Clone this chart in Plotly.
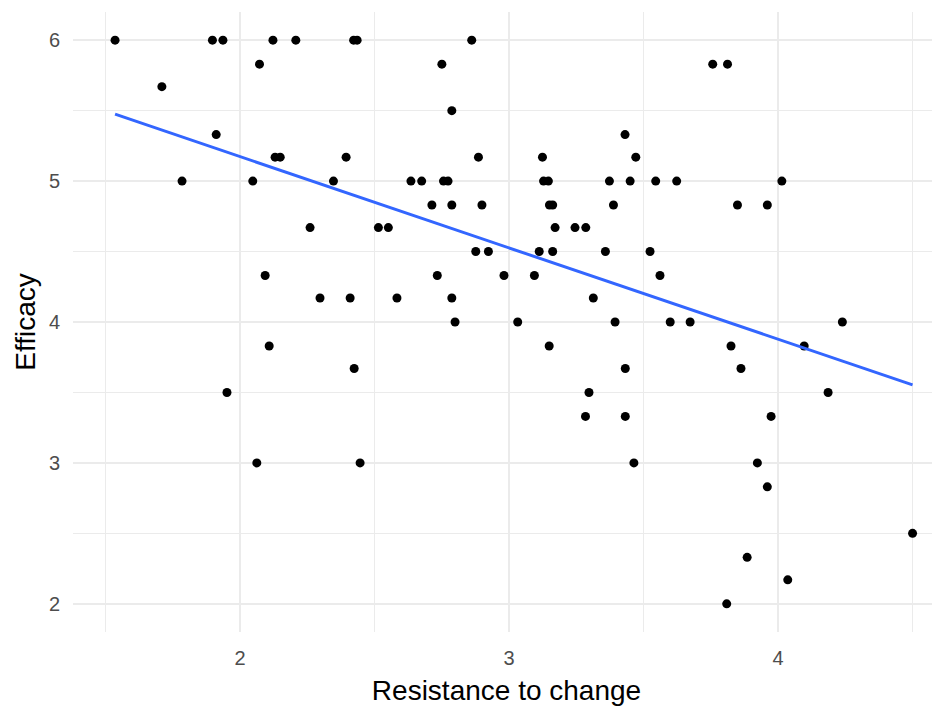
import numpy as np
import plotly.graph_objects as go

# Resistance to change (x) and Efficacy (y)
resistance = [
    1.535, 1.897, 1.936, 2.122, 2.207, 2.422, 2.435, 2.861,          # 6.00
    2.072, 2.750, 3.757, 3.812,                                       # 5.83
    1.709,                                                            # 5.67
    2.787,                                                            # 5.50
    1.911, 3.431,                                                     # 5.33
    2.130, 2.149, 2.394, 2.886, 3.124, 3.471,                         # 5.17
    1.784, 2.047, 2.347, 2.635, 2.675, 2.756, 2.773, 3.128, 3.146,
    3.373, 3.450, 3.545, 3.623, 4.014,                                # 5.00
    2.713, 2.787, 2.899, 3.150, 3.162, 3.388, 3.849, 3.960,           # 4.83
    2.260, 2.514, 2.551, 3.171, 3.245, 3.285,                         # 4.67
    2.876, 2.923, 3.112, 3.162, 3.358, 3.524,                         # 4.50
    2.093, 2.733, 2.981, 3.094, 3.561,                                # 4.33
    2.297, 2.409, 2.583, 2.787, 3.313,                                # 4.17
    2.799, 3.032, 3.394, 3.599, 3.673, 4.239,                         # 4.00
    2.108, 3.149, 3.825, 4.097,                                       # 3.83
    2.424, 3.432, 3.862,                                              # 3.67
    1.951, 3.297, 4.186,                                              # 3.50
    3.284, 3.432, 3.974,                                              # 3.33
    2.062, 2.446, 3.464, 3.923,                                       # 3.00
    3.960,                                                            # 2.83
    4.500,                                                            # 2.50
    3.885,                                                            # 2.33
    4.036,                                                            # 2.17
    3.809,                                                            # 2.00
]
efficacy = (
    [6.00] * 8 + [5.83] * 4 + [5.67] * 1 + [5.50] * 1 + [5.33] * 2 +
    [5.17] * 6 + [5.00] * 14 + [4.83] * 8 + [4.67] * 6 + [4.50] * 6 +
    [4.33] * 5 + [4.17] * 5 + [4.00] * 6 + [3.83] * 4 + [3.67] * 3 +
    [3.50] * 3 + [3.33] * 3 + [3.00] * 4 + [2.83] + [2.50] + [2.33] +
    [2.17] + [2.00]
)

x_ticks = [2, 3, 4]
y_ticks = [2, 3, 4, 5, 6]

# linear fit (geom_smooth(method = "lm"))
slope, intercept = np.polyfit(resistance, efficacy, 1)
fit_x = np.linspace(min(resistance), max(resistance), 80)
fit_y = slope * fit_x + intercept

fig = go.Figure()
fig.add_trace(go.Scatter(
    x=resistance, y=efficacy, mode="markers",
    marker=dict(color="black", size=9, line=dict(width=0)),
    showlegend=False, hoverinfo="x+y",
))
fig.add_trace(go.Scatter(
    x=fit_x, y=fit_y, mode="lines",
    line=dict(color="#3366FF", width=3),
    showlegend=False, hoverinfo="skip",
))

grid = "#EBEBEB"
fig.update_layout(
    width=932, height=701,
    margin=dict(l=65, r=0, t=4, b=77),
    paper_bgcolor="white", plot_bgcolor="white",
    font=dict(family="Liberation Sans, Arial, sans-serif", color="#4D4D4D"),
    xaxis=dict(
        range=[1.3786, 4.602], tickvals=x_ticks, ticktext=[str(v) for v in x_ticks],
        showgrid=True, gridcolor=grid, gridwidth=1.5, zeroline=False,
        showline=False, ticks="", tickfont=dict(size=20, color="#4D4D4D"),
        minor=dict(dtick=0.5, tick0=0, showgrid=True, gridcolor=grid, gridwidth=1),
        title=dict(text="Resistance to change", font=dict(size=28, color="black"), standoff=12),
        ticklabelstandoff=12,
    ),
    yaxis=dict(
        range=[1.8, 6.2], tickvals=y_ticks, ticktext=[str(v) for v in y_ticks],
        showgrid=True, gridcolor=grid, gridwidth=1.5, zeroline=False,
        showline=False, ticks="", tickfont=dict(size=20, color="#4D4D4D"),
        minor=dict(dtick=0.5, tick0=0, showgrid=True, gridcolor=grid, gridwidth=1),
        title=dict(text="Efficacy", font=dict(size=28, color="black"), standoff=5),
        ticklabelstandoff=12,
    ),
)

fig.write_html("out.html")
